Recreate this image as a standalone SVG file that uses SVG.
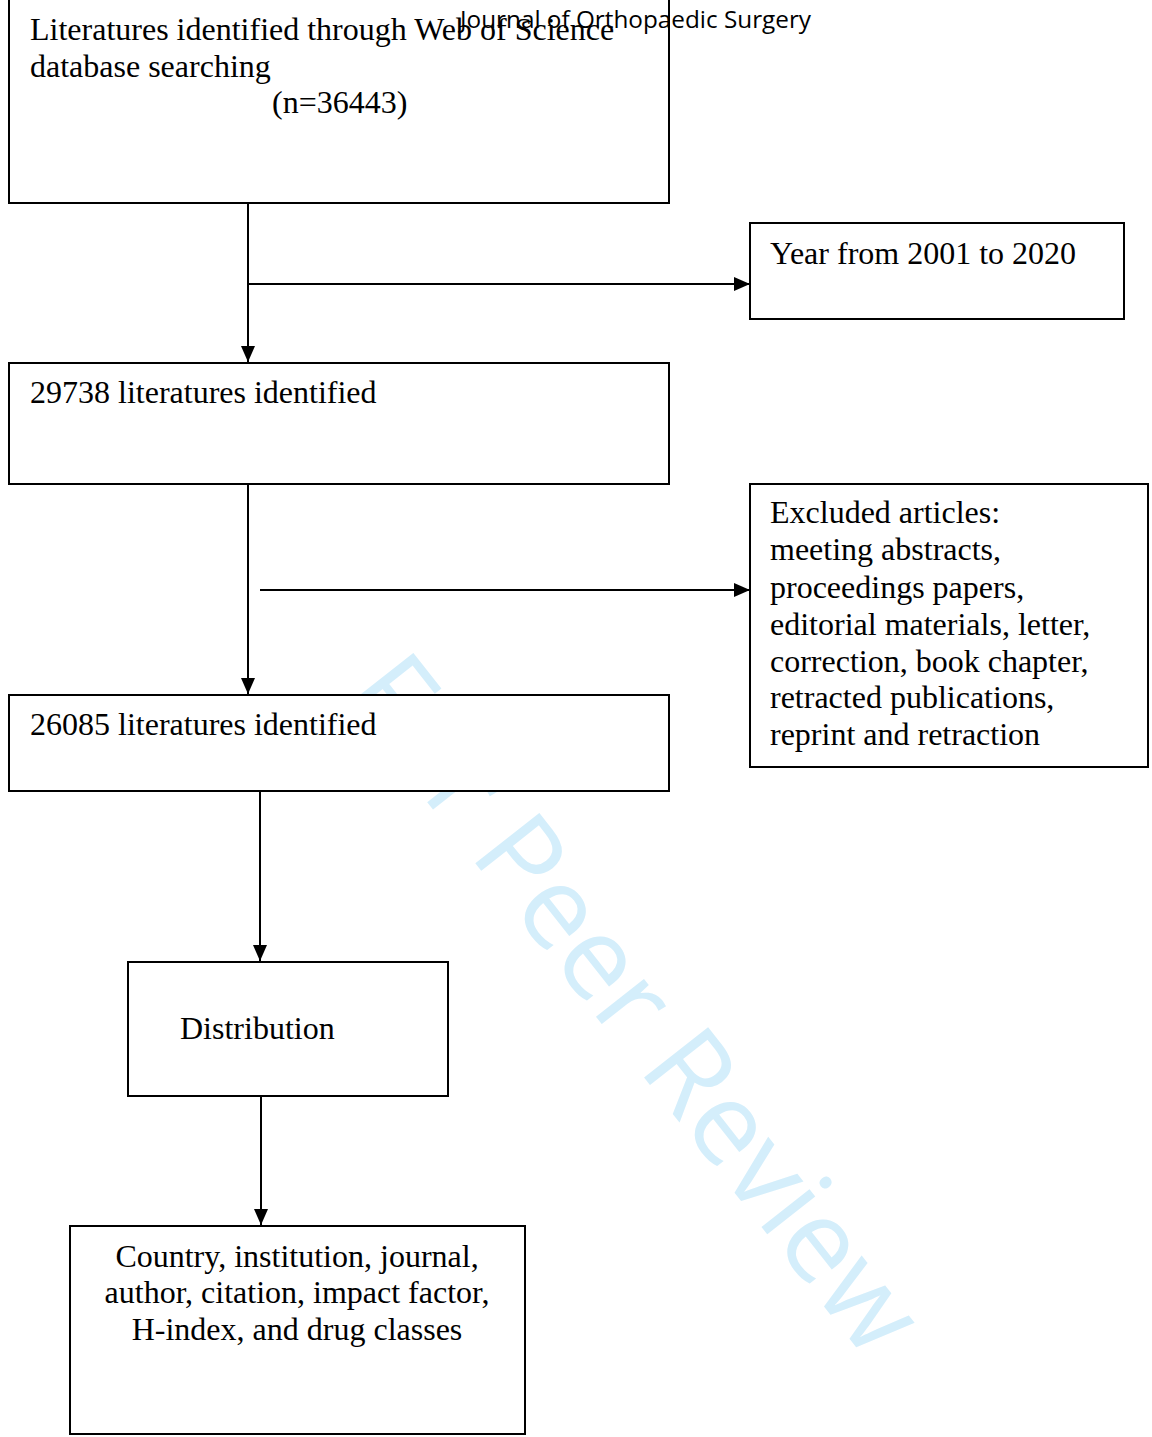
<svg xmlns="http://www.w3.org/2000/svg" width="1152" height="1437" viewBox="0 0 1152 1437">
<style>
.box{fill:#fff;stroke:#000;stroke-width:2}
.t{font-family:"Liberation Serif","Times New Roman",serif;font-size:32px;fill:#000}
.c{fill:none;stroke:#000;stroke-width:2}
.wm{font-family:"Open Sans","Noto Sans",sans-serif;font-size:114px;fill:#d4eefb}
.hdr{font-family:"Open Sans","Noto Sans",sans-serif;font-size:24px;fill:#000}
</style>
<defs>
<marker id="ah" viewBox="0 0 16 14" refX="16" refY="7" markerWidth="16" markerHeight="14" markerUnits="userSpaceOnUse" orient="auto">
<path d="M0,0 L16,7 L0,14 Z" fill="#000"/>
</marker>
</defs>
<rect width="1152" height="1437" fill="#fff"/>
<text class="wm" text-anchor="middle" transform="translate(605,1028) rotate(51.8)">For Peer Review</text>
<g id="connectors">
<line class="c" x1="248" y1="203" x2="248" y2="362" marker-end="url(#ah)"/>
<line class="c" x1="248" y1="284" x2="750" y2="284" marker-end="url(#ah)"/>
<line class="c" x1="248" y1="484" x2="248" y2="694" marker-end="url(#ah)"/>
<line class="c" x1="260" y1="590" x2="750" y2="590" marker-end="url(#ah)"/>
<line class="c" x1="260" y1="791" x2="260" y2="961" marker-end="url(#ah)"/>
<line class="c" x1="261" y1="1096" x2="261" y2="1225" marker-end="url(#ah)"/>
</g>
<g id="n1">
<rect class="box" x="9" y="-1" width="660" height="204"/>
<text class="t" x="30" y="40">Literatures identified through Web of Science</text>
<text class="t" x="30" y="77">database searching</text>
<text class="t" x="272" y="113">(n=36443)</text>
</g>
<g id="n2">
<rect class="box" x="750" y="223" width="374" height="96"/>
<text class="t" x="770" y="264">Year from 2001 to 2020</text>
</g>
<g id="n3">
<rect class="box" x="9" y="363" width="660" height="121"/>
<text class="t" x="30" y="403">29738 literatures identified</text>
</g>
<g id="n4">
<rect class="box" x="750" y="484" width="398" height="283"/>
<text class="t" x="770" y="523">Excluded articles:</text>
<text class="t" x="770" y="560">meeting abstracts,</text>
<text class="t" x="770" y="598">proceedings papers,</text>
<text class="t" x="770" y="635">editorial materials, letter,</text>
<text class="t" x="770" y="672">correction, book chapter,</text>
<text class="t" x="770" y="708">retracted publications,</text>
<text class="t" x="770" y="745">reprint and retraction</text>
</g>
<g id="n5">
<rect class="box" x="9" y="695" width="660" height="96"/>
<text class="t" x="30" y="735">26085 literatures identified</text>
</g>
<g id="n6">
<rect class="box" x="128" y="962" width="320" height="134"/>
<text class="t" x="180" y="1039">Distribution</text>
</g>
<g id="n7">
<rect class="box" x="70" y="1226" width="455" height="208"/>
<text class="t" x="297" y="1267" text-anchor="middle">Country, institution, journal,</text>
<text class="t" x="297" y="1303" text-anchor="middle">author, citation, impact factor,</text>
<text class="t" x="297" y="1340" text-anchor="middle">H-index, and drug classes</text>
</g>
<text class="hdr" x="460" y="28" textLength="351" lengthAdjust="spacingAndGlyphs">Journal of Orthopaedic Surgery</text>
</svg>
